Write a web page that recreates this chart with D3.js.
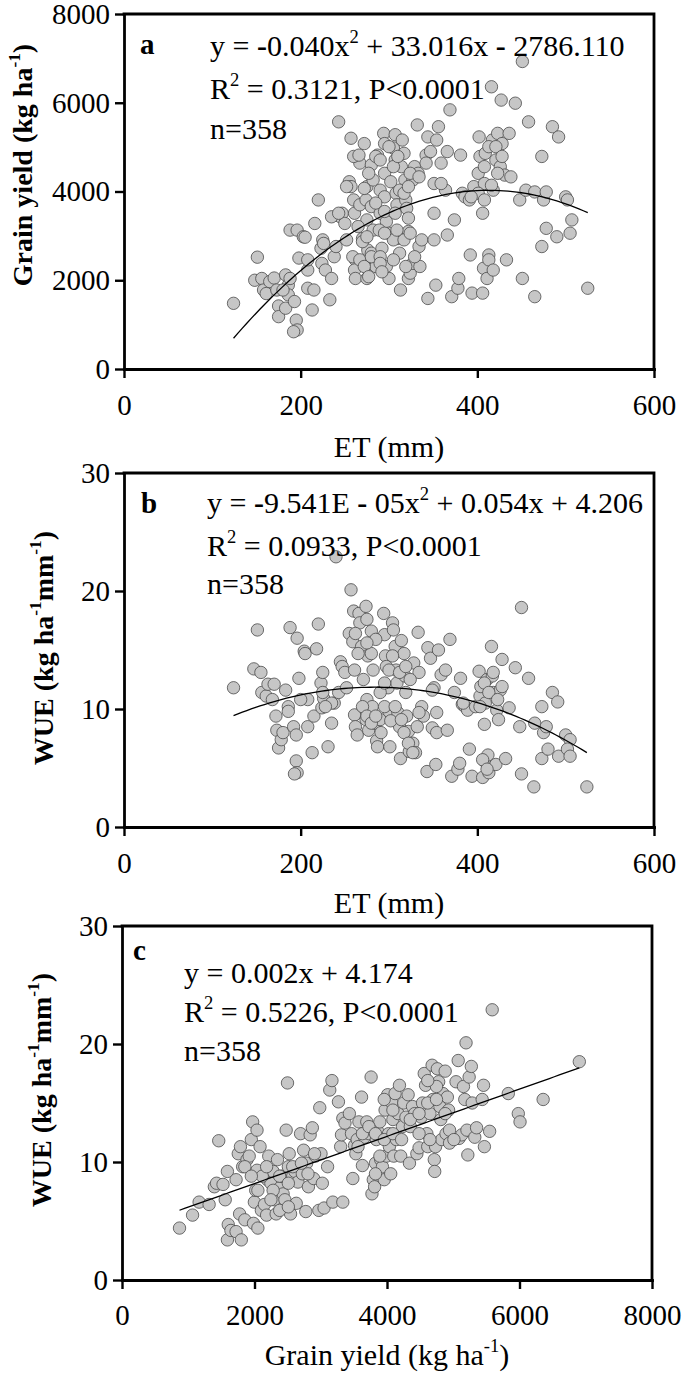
<!DOCTYPE html>
<html>
<head>
<meta charset="utf-8">
<script src="https://cdn.jsdelivr.net/npm/d3@7"></script>
<style>
  body { margin: 0; background: #fff; }
  text { font-family: "Liberation Serif", "Times New Roman", serif; fill: #000; white-space: pre; }
</style>
</head>
<body>
<div id="chart"></div>
<script>
// tick values
const etTicks = [0, 200, 400, 600];
const yieldTicks = [0, 2000, 4000, 6000, 8000];
const wueTicks = [0, 10, 20, 30];

// panel a : [ET (mm), grain yield (kg/ha)]
const pointsA = [
  [124,1480],[151,2520],[148,2000],[156,2040],[158,1780],[165,1970],[170,2050],[161,1700],[173,1780],[175,1420],
  [175,1180],[183,1370],[183,2120],[186,1890],[186,1670],[188,3130],[196,3130],[193,1520],[195,1100],[196,880],
  [192,840],[198,2500],[203,2980],[205,2970],[208,2230],[208,1820],[213,1330],[215,1780],[216,3280],[220,3810],
  [223,2720],[225,2910],[224,2380],[228,2230],[226,2830],[233,1560],[235,2040],[238,2530],[240,2760],[243,5570],
  [245,3430],[247,3510],[250,3280],[252,2910],[257,5200],[255,4220],[257,4110],[260,3810],[261,3510],[262,2460],
  [261,2230],[262,2040],[265,4790],[267,4640],[267,3700],[270,2940],[272,5080],[275,4110],[274,3810],[275,3360],
  [276,2680],[277,2380],[275,2040],[280,4600],[282,4260],[280,3660],[282,3130],[280,2610],[277,2230],[285,2310],
  [287,4820],[290,4030],[290,3510],[292,2720],[294,5310],[295,4410],[295,3880],[297,3320],[297,2310],[300,2040],
  [300,3060],[302,4220],[305,4980],[307,5280],[307,4710],[308,3960],[309,3700],[310,2940],[312,2610],[313,1780],
  [315,5160],[314,4560],[317,4860],[318,4260],[319,3810],[320,3620],[322,3100],[322,2040],[324,2160],[327,2380],
  [329,4560],[332,5500],[333,4410],[334,2760],[335,2310],[337,2910],[342,4820],[344,5230],[347,4900],[344,1590],
  [351,3510],[351,4180],[351,2910],[353,1890],[356,5460],[359,4640],[364,4030],[366,4900],[366,3020],[369,5840],
  [371,1630],[374,3360],[378,1820],[379,2040],[381,4820],[383,3960],[386,3880],[391,3810],[392,2570],[394,1710],
  [396,4110],[401,4410],[402,5230],[403,4790],[406,1710],[406,3510],[407,2270],[408,4180],[409,4860],[411,2040],
  [413,2570],[413,2460],[416,6360],[417,5160],[418,4030],[418,2230],[421,4710],[423,5310],[426,4560],[427,6060],
  [428,5080],[431,4370],[433,2460],[436,5310],[438,4330],[443,5990],[448,3810],[451,6930],[451,2040],[455,4030],
  [458,5570],[465,3990],[465,1630],[473,2760],[473,4790],[475,3810],[478,3990],[478,3170],[485,5460],[490,2980],
  [492,5230],[500,3880],[502,3810],[505,3060],[507,3360],[525,1820],[259,2530],[267,2460],[272,2310],[280,2530],
  [290,2530],[305,2910],[317,2910],[324,3060],[329,2530],[265,3210],[285,3740],[295,3550],[307,3510],[312,4030],
  [327,4260],[260,4790],[266,4820],[272,4070],[277,4410],[285,4790],[290,4710],[295,5080],[300,5010],[305,4560],
  [310,4790],[317,3960],[322,4110],[324,4410],[289,3130],[295,3060],[309,3130],[270,2870],[275,2980],[290,2380],
  [292,2190],[305,2460],[319,2310],[277,2080],[401,3960],[408,4560],[413,5010],[421,5010],[423,4410],[428,4790],
  [416,4140],[408,3810],[393,3880],[322,3400],[334,4330],[342,4640],[354,5160],[359,4180],[180,1780],[188,2040],
  [208,2460],[235,3430],[243,3510],[252,4110]
];

// panel b : [ET (mm), WUE (kg/ha/mm)]
const pointsB = [
  [124,11.8],[151,16.7],[147,13.4],[155,13.1],[156,11.4],[161,11.1],[163,12.1],[170,12.1],[168,10.8],[172,9.4],
  [173,8.2],[175,6.7],[178,7.4],[180,8.0],[183,11.6],[186,10.2],[186,9.8],[188,16.9],[192,8.5],[195,7.8],
  [195,5.6],[196,4.6],[193,4.5],[196,16.0],[198,12.6],[204,14.9],[205,14.7],[208,10.8],[208,8.5],[213,6.3],
  [215,9.4],[218,15.1],[220,17.2],[223,12.2],[225,13.1],[224,10.1],[226,10.9],[225,11.4],[231,6.8],[235,8.8],
  [238,10.5],[240,22.9],[243,11.4],[245,14.0],[247,13.6],[250,13.1],[252,11.8],[257,20.1],[255,16.4],[259,15.7],
  [260,18.3],[261,13.3],[261,9.5],[262,8.5],[264,7.8],[266,18.1],[267,17.3],[269,15.3],[271,12.5],[274,18.7],
  [275,17.6],[276,14.5],[275,10.8],[274,9.1],[277,9.7],[277,8.2],[280,16.6],[282,13.3],[281,10.2],[284,8.8],
  [286,7.3],[287,6.8],[290,9.1],[291,8.0],[294,18.1],[295,16.3],[296,14.5],[297,13.6],[299,11.8],[300,9.8],
  [301,6.8],[304,17.3],[305,16.7],[307,15.3],[308,13.3],[309,12.2],[310,9.7],[312,8.5],[313,5.8],[314,15.8],
  [317,14.7],[318,12.8],[319,11.4],[320,9.4],[322,8.1],[323,6.4],[327,7.1],[328,13.9],[330,6.3],[332,8.5],
  [333,16.5],[334,13.1],[337,10.2],[343,4.7],[344,15.2],[347,14.3],[349,8.4],[351,11.8],[353,5.3],[354,8.0],
  [356,15.0],[359,12.9],[364,13.3],[366,8.2],[369,15.9],[371,4.3],[374,11.4],[378,4.9],[380,5.4],[381,12.6],
  [383,10.4],[386,10.2],[389,9.9],[391,6.6],[394,4.3],[398,10.2],[402,13.2],[403,11.1],[404,11.9],[406,4.2],
  [408,8.7],[408,5.6],[409,10.5],[411,12.5],[412,6.1],[413,4.6],[416,15.3],[417,12.8],[418,11.4],[421,5.3],
  [422,9.9],[424,9.1],[426,11.6],[428,14.2],[432,5.8],[436,10.1],[443,13.5],[448,8.5],[450,18.6],[450,4.5],
  [458,12.6],[464,3.4],[465,8.8],[473,10.2],[473,5.8],[475,8.0],[478,8.5],[480,6.6],[485,11.4],[491,10.6],
  [492,6.0],[500,7.8],[505,7.4],[502,6.6],[505,6.0],[524,3.4],
  [270,10.2],[275,9.4],[280,8.8],[285,9.4],[290,11.4],[295,10.2],[302,9.0],[307,10.2],[314,9.1],[317,8.0],
  [322,7.1],[327,6.3],[295,12.2],[300,13.3],[304,14.5],[312,13.1],[319,13.6],[324,12.5],[280,14.7],[285,15.9],
  [275,15.6],[265,14.7],[262,16.4],[403,10.2],[408,12.2],[413,11.4],[418,13.1],[423,10.8],[428,11.9],[384,10.5],
  [406,5.7],[411,4.9],[200,10.8],[235,10.5],[228,10.2],[354,9.7],[349,11.6],[339,9.4],[334,9.7]
];

// panel c : [grain yield (kg/ha), WUE (kg/ha/mm)]
const pointsC = [
  [868,4.4],[1065,5.5],[1164,6.6],[1315,6.4],[1394,7.9],[1427,8.2],[1460,11.8],[1525,8.1],[1558,6.8],[1591,3.4],
  [1604,4.7],[1644,4.2],[1591,9.2],[1722,4.1],[1722,8.5],[1755,10.7],[1775,5.6],[1788,11.3],[1801,3.4],[1821,9.6],
  [1854,5.1],[1887,10.2],[1920,10.5],[1952,11.9],[1972,13.4],[1985,4.8],[1998,6.6],[2018,7.6],[2038,12.7],[2038,9.3],
  [2051,4.4],[2084,11.3],[2104,5.9],[2150,6.4],[2183,5.5],[2196,8.5],[2215,10.5],[2248,8.2],[2281,9.2],[2301,6.8],
  [2327,5.6],[2347,10.2],[2380,7.8],[2413,8.8],[2432,7.3],[2459,6.8],[2478,12.7],[2498,16.7],[2511,9.6],[2524,10.7],
  [2544,5.6],[2577,8.8],[2610,9.2],[2630,6.5],[2656,8.3],[2695,12.4],[2722,9.0],[2741,11.0],[2774,5.8],[2787,9.9],
  [2814,7.9],[2840,12.3],[2873,12.9],[2893,8.6],[2919,10.5],[2971,5.9],[2985,14.6],[3004,10.7],[3024,8.2],[3050,6.1],
  [3103,9.6],[3136,16.1],[3169,16.9],[3182,6.6],[3267,15.1],[3300,11.3],[3313,12.3],[3333,6.6],[3333,13.7],[3366,13.3],
  [3432,14.1],[3464,12.4],[3484,8.6],[3510,11.4],[3530,10.7],[3550,11.9],[3576,13.4],[3616,15.5],[3629,9.7],[3662,12.1],
  [3695,13.4],[3727,12.4],[3760,17.2],[3773,7.3],[3793,8.5],[3813,7.9],[3826,9.9],[3839,11.9],[3859,12.6],[3892,13.4],
  [3905,10.2],[3931,9.6],[3958,8.5],[3971,14.4],[3991,10.5],[4010,15.7],[4023,12.4],[4036,11.3],[4056,9.0],[4076,15.0],
  [4089,13.6],[4102,10.5],[4122,15.8],[4142,11.9],[4168,14.1],[4188,16.5],[4207,10.5],[4234,13.0],[4253,15.0],[4286,13.8],
  [4319,15.7],[4339,9.9],[4352,13.0],[4385,14.7],[4418,14.1],[4451,10.7],[4484,11.2],[4516,13.8],[4536,15.0],[4562,17.5],
  [4582,16.5],[4602,12.4],[4615,11.3],[4648,14.1],[4681,18.2],[4694,15.3],[4714,10.2],[4720,9.2],[4733,11.3],[4760,17.9],
  [4780,16.8],[4799,14.7],[4812,13.6],[4826,11.9],[4845,15.8],[4878,17.7],[4891,12.4],[4911,15.5],[4930,14.4],[4944,11.6],
  [5042,16.8],[5075,18.6],[5088,12.0],[5128,12.3],[5154,16.4],[5174,15.3],[5193,20.1],[5207,12.7],[5220,10.6],[5240,17.2],
  [5273,18.1],[5286,15.0],[5325,12.1],[5352,12.9],[5437,15.3],[5457,16.5],[5470,11.3],[5549,12.6],[5588,22.9],[5831,15.8],
  [5982,14.1],[6008,13.4],[6357,15.3],[6903,18.5],
  [2117,8.8],[2183,9.6],[2281,7.6],[2380,8.8],[2511,8.2],[2577,9.6],[2709,9.9],[2807,9.0],[2906,10.7],[3563,11.3],
  [3629,12.4],[3727,13.0],[3826,12.4],[3958,11.9],[4089,12.4],[4220,11.9],[4352,13.6],[4484,14.1],[4615,15.0],[4747,15.3],
  [4878,14.1],[4944,12.7],[5010,11.9],[4484,12.4],[4648,11.9],[1854,9.6],[1952,8.8],[2051,7.6],[2248,6.8],[2380,5.9],
  [2511,6.2],[4747,16.4],[4615,16.9],[4089,14.4],[3958,15.3],[3826,9.0],[3892,10.5]
];

// fitted equations (coefficients as printed on the chart)
const fitA = [-0.040, 33.016, -2786.110];
const fitB = [-9.541e-5, 0.054, 4.206];
const fitC = [0, 0.002, 4.174];

// annotation text ("^" = superscript, "*" = bold)
const eqA = [["y = ", "*-", "0.040x", "^2", " + 33.016x ", "*-", " 2786.110"],
             ["R", "^2", " = 0.3121, P<0.0001"], ["n=358"]];
const eqB = [["y = ", "*-", "9.541E ", "*-", " 05x", "^2", " + 0.054x + 4.206"],
             ["R", "^2", " = 0.0933, P<0.0001"], ["n=358"]];
const eqC = [["y = 0.002x + 4.174"], ["R", "^2", " = 0.5226, P<0.0001"], ["n=358"]];

const svg = d3.select("#chart").append("svg")
    .attr("width", 685)
    .attr("height", 1377);

// writes text parts into a <text>, superscripts raised and the baseline restored afterwards
function richText(sel, parts, size) {
  let back = 0;
  parts.forEach(function(p) {
    let ts;
    if (p[0] === "^") {
      ts = sel.append("tspan").attr("dy", -size * 0.42 + back).style("font-size", (size * 0.62) + "px").text(p.slice(1));
      back = size * 0.42;
      return;
    }
    if (p[0] === "*" && p.length > 1) {
      ts = sel.append("tspan").style("font-weight", "bold").text(p.slice(1));
    } else {
      ts = sel.append("tspan").text(p);
    }
    if (back) ts.attr("dy", back);
    back = 0;
  });
}

function drawPanel(p) {
  const g = svg.append("g");
  const x = d3.scaleLinear().domain(p.xDomain).range(p.xRange);
  const y = d3.scaleLinear().domain(p.yDomain).range(p.yRange);
  const [x0, x1] = p.xRange, [yb, yt] = p.yRange;

  // points
  g.append("g").selectAll("circle")
    .data(p.points)
    .join("circle")
      .attr("cx", d => x(d[0]))
      .attr("cy", d => y(d[1]))
      .attr("r", 6.2)
      .style("fill", "#c6c6c6")
      .style("stroke", "#4a4a4a")
      .style("stroke-width", 0.8);

  // fitted curve
  const ext = d3.extent(p.points, d => d[0]);
  const step = (ext[1] - ext[0]) / 80;
  const xs = d3.range(ext[0], ext[1] + step / 2, step);
  const f = p.fit;
  g.append("path")
    .datum(xs)
    .attr("fill", "none")
    .attr("stroke", "#000")
    .attr("stroke-width", 1.3)
    .attr("d", d3.line().x(v => x(v)).y(v => y(f[0] * v * v + f[1] * v + f[2])));

  // frame (top, right)
  g.append("path")
    .attr("d", `M${x0},${yt}H${x1}V${yb}`)
    .attr("fill", "none").attr("stroke", "#000").attr("stroke-width", 2.8)
    .attr("stroke-linecap", "square");

  // axes
  const xAxis = g.append("g")
    .attr("transform", `translate(0,${yb})`)
    .call(d3.axisBottom(x).tickValues(p.xTicks).tickSize(9).tickPadding(p.xPad).tickSizeOuter(0).tickFormat(d3.format("d")));
  const yAxis = g.append("g")
    .attr("transform", `translate(${x0},0)`)
    .call(d3.axisLeft(y).tickValues(p.yTicks).tickSize(9).tickPadding(5).tickSizeOuter(0).tickFormat(d3.format("d")));
  [xAxis, yAxis].forEach(function(a) {
    a.select(".domain").attr("stroke-width", 2.8).attr("stroke-linecap", "square");
    a.selectAll(".tick line").attr("stroke-width", 2.4);
    a.selectAll("text").style("font-size", "29px");
  });

  // panel letter
  g.append("text").attr("x", p.letterX).attr("y", p.letterY)
    .style("font-size", "29px").style("font-weight", "bold").text(p.letter);

  // equation lines
  p.eq.forEach(function(line, i) {
    const t = g.append("text").attr("x", p.eqX).attr("y", p.eqY[i]).style("font-size", "30px");
    richText(t, line, 30);
  });

  // axis titles
  const xt = g.append("text").attr("x", (x0 + x1) / 2).attr("y", p.xTitleY)
    .attr("text-anchor", "middle").style("font-size", "30px");
  richText(xt, p.xTitle, 30);
  const yt2 = g.append("text")
    .attr("transform", `translate(${p.yTitleX},${p.yTitleY}) rotate(-90)`)
    .attr("text-anchor", "middle").style("font-size", "28px").style("font-weight", "bold");
  richText(yt2, p.yTitle, 28);
}

drawPanel({
  points: pointsA, fit: fitA, eq: eqA,
  xDomain: [0, 600], xRange: [124, 654], yDomain: [0, 8000], yRange: [369, 14],
  xTicks: etTicks, yTicks: yieldTicks, xPad: 16,
  letter: "a", letterX: 140, letterY: 54,
  eqX: 210, eqY: [56, 99, 139],
  xTitle: ["ET (mm)"], xTitleY: 457,
  yTitle: ["Grain yield (kg ha", "^-1", ")"], yTitleX: 32, yTitleY: 165
});

drawPanel({
  points: pointsB, fit: fitB, eq: eqB,
  xDomain: [0, 600], xRange: [124, 654], yDomain: [0, 30], yRange: [827, 473],
  xTicks: etTicks, yTicks: wueTicks, xPad: 16,
  letter: "b", letterX: 141, letterY: 513,
  eqX: 207, eqY: [513, 556, 594],
  xTitle: ["ET (mm)"], xTitleY: 913,
  yTitle: ["WUE (kg ha", "^-1", "mm", "^-1", ")"], yTitleX: 53, yTitleY: 648
});

drawPanel({
  points: pointsC, fit: fitC, eq: eqC,
  xDomain: [0, 8000], xRange: [122, 652], yDomain: [0, 30], yRange: [1280, 926],
  xTicks: yieldTicks, yTicks: wueTicks, xPad: 15,
  letter: "c", letterX: 133, letterY: 960,
  eqX: 184, eqY: [983, 1022, 1061],
  xTitle: ["Grain yield (kg ha", "^-1", ")"], xTitleY: 1365,
  yTitle: ["WUE (kg ha", "^-1", "mm", "^-1", ")"], yTitleX: 51, yTitleY: 1090
});
</script>
</body>
</html>
